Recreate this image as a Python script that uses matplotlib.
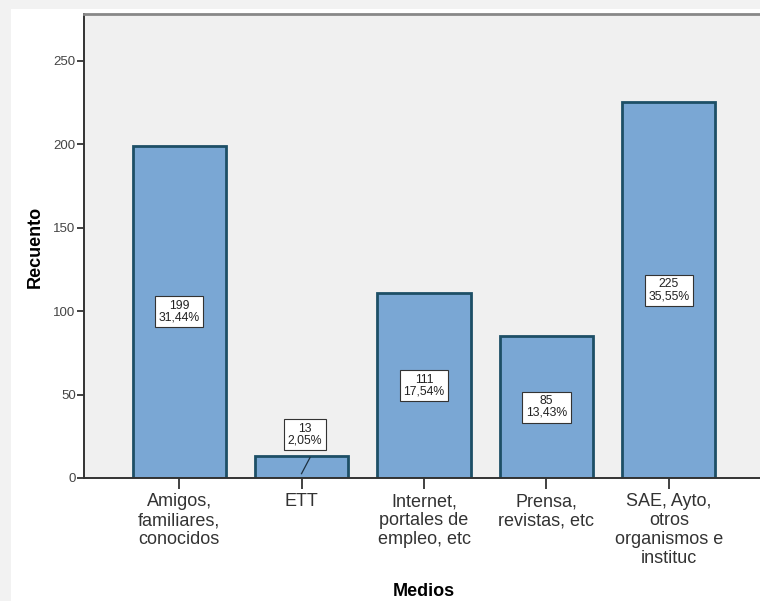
import matplotlib
matplotlib.use('Agg')
import matplotlib.pyplot as plt
from matplotlib.patches import Rectangle

categorias = ['Amigos,\nfamiliares,\nconocidos', 'ETT', 'Internet,\nportales de\nempleo, etc',
              'Prensa,\nrevistas, etc', 'SAE, Ayto,\notros\norganismos e\ninstituc']
recuento = [199, 13, 111, 85, 225]
porcentaje = ['31,44%', '2,05%', '17,54%', '13,43%', '35,55%']

plt.rcParams['font.family'] = ['Liberation Sans', 'DejaVu Sans']

W, H = 760, 601
fig = plt.figure(figsize=(W / 100, H / 100), dpi=100)
fig.patch.set_facecolor('#f2f2f2')
# white page with a faint grey margin at top and left
fig.patches.append(Rectangle((11 / W, 0), 1, 1 - 9 / H, transform=fig.transFigure,
                             facecolor='white', edgecolor='none', zorder=-5))

# axes box in pixel coordinates (right side runs past the picture edge)
left, right, top, bottom = 84, 764, 14, 478
ax = fig.add_axes([left / W, 1 - bottom / H, (right - left) / W, (bottom - top) / H])
ax.set_facecolor('#f0f0f0')

x = list(range(len(categorias)))
ax.bar(x, recuento, width=0.76, color='#7aa7d4', edgecolor='#1d4f66', linewidth=2, zorder=2)

box = dict(boxstyle='square,pad=0.3', facecolor='white', edgecolor='#333333', linewidth=0.8)
for i, (v, p) in enumerate(zip(recuento, porcentaje)):
    txt = '%d\n%s' % (v, p)
    if v < 30:
        ax.plot([i, i + 0.07], [v * 0.2, v * 0.95], color='#1d3040', lw=0.9, zorder=3)
        ax.text(i + 0.03, v + 13, txt, ha='center', va='center', fontsize=8.8,
                linespacing=0.95, bbox=box, zorder=4, color='#222222')
    else:
        ax.text(i, v / 2, txt, ha='center', va='center', fontsize=8.8,
                linespacing=0.95, bbox=box, zorder=4, color='#222222')

ax.set_xlim(-0.776, 4.776)
ax.set_ylim(0, 278)
ax.set_yticks([0, 50, 100, 150, 200, 250])
ax.set_xticks(x)
ax.set_xticklabels(categorias, fontsize=13, color='#333333', linespacing=1.15)
ax.tick_params(axis='y', labelsize=9.5, colors='#333333', length=5, width=1.3, pad=1)
ax.tick_params(axis='x', length=8, width=1.3, colors='#333333', pad=3)
for lab in ax.get_yticklabels():
    lab.set_color('#444444')

for s in ['left', 'bottom']:
    ax.spines[s].set_color('#333333')
    ax.spines[s].set_linewidth(1.4)
ax.spines['top'].set_color('#888888')
ax.spines['top'].set_linewidth(2)
ax.spines['right'].set_visible(False)

fig.text(35 / W, 1 - 247 / H, 'Recuento', rotation=90, ha='center', va='center',
         fontsize=13, fontweight='bold')
fig.text(424 / W, 1 - 592 / H, 'Medios', ha='center', va='center',
         fontsize=13, fontweight='bold')

fig.savefig('out.png', dpi=100)
